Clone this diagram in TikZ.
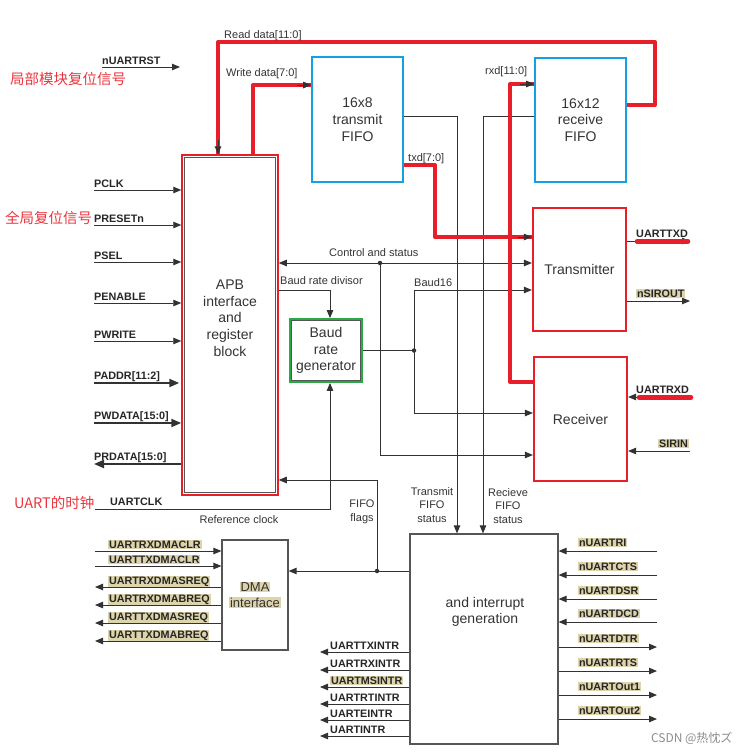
\documentclass[tikz,border=0pt]{standalone}
\usepackage{fontspec}
\setmainfont{Liberation Sans}
\newfontfamily\cjk{Noto Sans CJK SC}
\usetikzlibrary{arrows.meta,calc}

\definecolor{uartred}{RGB}{232,30,40}
\definecolor{fifoblue}{RGB}{20,160,225}
\definecolor{baudgreen}{RGB}{40,170,70}
\definecolor{wiregray}{RGB}{50,50,50}
\definecolor{boxgray}{RGB}{85,85,85}
\definecolor{hl}{RGB}{222,212,172}
\newcommand\hilite[1]{{\setlength\fboxsep{0.8pt}\colorbox{hl}{#1}}}

\tikzset{
  block/.style={draw=boxgray, line width=1.2pt, align=center, inner sep=0pt,
    text=black!80, font=\fontsize{14}{16.7}\selectfont},
  fifo/.style={block, draw=fifoblue, line width=1.6pt},
  unit/.style={block, draw=uartred, line width=2.2pt},
  wire/.style={draw=wiregray, line width=0.9pt},
  arr/.style={wire, -{Triangle[length=8pt,width=6.5pt]}},
  dbl/.style={wire, {Triangle[length=8pt,width=6.5pt]}-{Triangle[length=8pt,width=6.5pt]}},
  busarr/.style={wire, line width=2pt, -{Triangle[length=10pt,width=8pt]}},
  redbus/.style={draw=uartred, line width=4pt, line join=round},
  redmark/.style={draw=uartred, line width=4.5pt, line cap=round},
  sig/.style={font=\fontsize{10.8}{12}\selectfont\bfseries, text=black!85, anchor=base west, inner sep=0pt},
  note/.style={font=\fontsize{11}{13.5}\selectfont, text=black!80, align=center, inner sep=0pt},
  cn/.style={font=\cjk\fontsize{14.5}{17}\selectfont, text=uartred!90, anchor=west, inner sep=0pt},
  junction/.style={circle, fill=wiregray, inner sep=0pt, minimum size=4.5pt},
}

\begin{document}
\begin{tikzpicture}[x=1pt,y=-1pt]
    \useasboundingbox (0,0) rectangle (741,755);

    % blocks
    \node[block, draw=uartred, line width=1.5pt, minimum width=96pt, minimum height=340pt] (apb) at (230,325) {};
    \draw[boxgray, line width=1.2pt] ([shift={(3,3)}]apb.north west) rectangle ([shift={(-3,-3)}]apb.south east);
    \node[block, draw=none] (apbtext) at (230,318) {APB\\interface\\and\\register\\block};

    \node[fifo, minimum width=91pt, minimum height=125pt] (txfifo) at (357.5,119.5) {16x8\\transmit\\FIFO};
    \node[fifo, minimum width=91pt, minimum height=124pt] (rxfifo) at (580.5,120) {16x12\\receive\\FIFO};
    \node[unit, minimum width=93pt, minimum height=123pt] (tx) at (579.5,269.5) {Transmitter};
    \node[unit, minimum width=93pt, minimum height=124pt] (rx) at (580.5,419) {Receiver};

    \node[block, draw=baudgreen, line width=1.8pt, minimum width=72pt, minimum height=63pt] (baud) at (326,350.5) {Baud\\rate\\generator};
    \draw[boxgray, line width=1pt] ([shift={(2.5,2.5)}]baud.north west) rectangle ([shift={(-2.5,-2.5)}]baud.south east);

    \node[block, minimum width=66pt, minimum height=110pt, font=\fontsize{13}{16}\selectfont] (dma) at (255,595) {\hilite{DMA}\\\hilite{interface}};
    \node[block, minimum width=148pt, minimum height=210pt] (intr) at (484,639) {};
    \node[block, draw=none] (intrtext) at (485,612) {and interrupt\\generation};

    % APB side
    \coordinate (rstin) at (102,67);
    \draw[arr] (rstin) -- ++(78,0);
    \node[sig] (rst) at ([yshift=3pt]rstin) {nUARTRST};

    \foreach \y/\n/\t in {190/pclk/PCLK, 225/preset/PRESETn, 262/psel/PSEL, 303/penable/PENABLE, 341/pwrite/PWRITE}{
        \coordinate (\n) at (94,\y);
        \draw[arr] (\n) -- (\n -| apb.west);
        \node[sig] (\n-lbl) at ([yshift=3pt]\n) {\t};
    }
    \coordinate (paddr) at (94,383);
    \draw[busarr] (paddr) -- ([xshift=-2pt]paddr -| apb.west);
    \node[sig] (paddr-lbl) at ([yshift=3.5pt]paddr) {PADDR[11:2]};
    \coordinate (pwdata) at (94,423);
    \draw[busarr] (pwdata) -- (pwdata -| apb.west);
    \node[sig] (pwdata-lbl) at ([yshift=3.5pt]pwdata) {PWDATA[15:0]};
    \coordinate (prdata) at (94,464);
    \draw[busarr] (prdata -| apb.west) -- (prdata);
    \node[sig] (prdata-lbl) at ([yshift=3.5pt]prdata) {PRDATA[15:0]};

    \coordinate (uclk) at (95,509);
    \coordinate (refclk) at (330,509);
    \draw[arr] (uclk) -- (refclk) -- (refclk |- baud.south);
    \node[sig] (uclk-lbl) at ([xshift=15pt,yshift=4pt]uclk) {UARTCLK};
    \node[note] (refclk-lbl) at (239,520) {Reference clock};

    \node[cn] (cn1) at (10,79) {局部模块复位信号};
    \node[cn] (cn2) at (5,218) {全局复位信号};
    \node[cn] (cn3) at (14,503) {UART的时钟};

    % control, baud and status wires
    \coordinate (cs) at (380,263);
    \coordinate (cs2) at (380,455);
    \draw[dbl] (apb.east |- cs) -- (tx.west |- cs);
    \draw[arr] (cs) -- (cs2) -- (cs2 -| rx.west);
    \node[junction] (csdot) at (cs) {};
    \node[note, anchor=base west] (cslbl) at (329,256) {Control and status};

    \coordinate (bd) at (330,290);
    \draw[arr] (apb.east |- bd) -- (bd) -- (bd |- baud.north);
    \node[note, anchor=base west] (bdlbl) at (280,284) {Baud rate divisor};

    \coordinate (b16) at (414,350.5);
    \coordinate (b16t) at (414,290);
    \coordinate (b16r) at (414,413);
    \draw[wire] (baud.east) -- (b16);
    \draw[arr] (b16) -- (b16t) -- (b16t -| tx.west);
    \draw[arr] (b16) -- (b16r) -- (b16r -| rx.west);
    \node[junction] (b16dot) at (b16) {};
    \node[note, anchor=base west] (b16lbl) at (414,286) {Baud16};

    \coordinate (tfs) at (457,116);
    \coordinate (rfs) at (483,116);
    \draw[arr] (txfifo.east |- tfs) -- (tfs) -- (tfs |- intr.north);
    \draw[arr] (rxfifo.west |- rfs) -- (rfs) -- (rfs |- intr.north);
    \node[note] (tfslbl) at (432,505) {Transmit\\FIFO\\status};
    \node[note] (rfslbl) at (508,506) {Recieve\\FIFO\\status};

    \coordinate (ff) at (377,571);
    \coordinate (ff2) at (377,480);
    \draw[arr] (intr.west |- ff) -- (dma.east |- ff);
    \draw[arr] (ff) -- (ff2) -- (ff2 -| apb.east);
    \node[junction] (ffdot) at (ff) {};
    \node[note] (fflbl) at (362,512) {FIFO\\flags};

    % data paths
    \coordinate (rdr) at (655,105);
    \coordinate (rdl) at (218,42);
    \coordinate (rdend) at (rdl |- apb.north);
    \draw[redbus] (rxfifo.east |- rdr) -- (rdr) |- (rdl) -- (rdend);
    \draw[arr] ([yshift=14pt]rdend) -- (rdend);
    \node[note, anchor=base west] (rdlbl) at (224,38) {Read data[11:0]};

    \coordinate (wd) at (253,85);
    \coordinate (wdend) at (wd -| txfifo.west);
    \draw[redbus] (wd |- apb.north) -- (wd) -- (wdend);
    \draw[arr] ([xshift=-14pt]wdend) -- (wdend);
    \node[note, anchor=base west] (wdlbl) at (226,76) {Write data[7:0]};

    \coordinate (td) at (435,165);
    \coordinate (td2) at (435,237);
    \coordinate (tdend) at (td2 -| tx.west);
    \draw[redbus] (txfifo.east |- td) -- (td) -- (td2) -- (tdend);
    \draw[arr] ([xshift=-14pt]tdend) -- (tdend);
    \node[note, anchor=base west] (tdlbl) at (408,161) {txd[7:0]};

    \coordinate (xd) at (510,382);
    \coordinate (xd2) at (510,84);
    \coordinate (xdend) at (xd2 -| rxfifo.west);
    \draw[redbus] (rx.west |- xd) -- (xd) -- (xd2) -- (xdend);
    \draw[arr] ([xshift=-14pt]xdend) -- (xdend);
    \node[note, anchor=base west] (xdlbl) at (485,74) {rxd[11:0]};

    % serial pins
    \coordinate (txdout) at (690,241);
    \draw[arr] (tx.east |- txdout) -- (txdout);
    \node[sig] (txdlbl) at (636,237) {UARTTXD};
    \draw[redmark] (637,241.5) -- (688,241.5);
    \coordinate (sirout) at (690,301);
    \draw[arr] (tx.east |- sirout) -- (sirout);
    \node[sig] (siroutlbl) at (636,297) {\hilite{nSIROUT}};

    \coordinate (rxdin) at (690,397);
    \draw[arr] (rxdin) -- (rxdin -| rx.east);
    \node[sig] (rxdlbl) at (636,393) {UARTRXD};
    \draw[redmark] (639,397.5) -- (691,397.5);
    \coordinate (sirin) at (690,451);
    \draw[arr] (sirin) -- (sirin -| rx.east);
    \node[sig, anchor=base east] (sirinlbl) at (689,447) {\hilite{SIRIN}};

    % DMA pins
    \foreach \y/\t in {551/UARTRXDMACLR, 566/UARTTXDMACLR}{
        \coordinate (\t) at (95,\y);
        \draw[arr] (\t) -- (\t -| dma.west);
        \node[sig] (\t-lbl) at ([xshift=13pt,yshift=3pt]\t) {\hilite{\t}};
    }
    \foreach \y/\t in {587/UARTRXDMASREQ, 605/UARTRXDMABREQ, 623/UARTTXDMASREQ, 641/UARTTXDMABREQ}{
        \coordinate (\t) at (95,\y);
        \draw[arr] (\t -| dma.west) -- (\t);
        \node[sig] (\t-lbl) at ([xshift=13pt,yshift=3pt]\t) {\hilite{\t}};
    }

    % interrupt pins
    \foreach \y/\t in {652/UARTTXINTR, 670/UARTRXINTR, 704/UARTRTINTR, 720/UARTEINTR, 736/UARTINTR}{
        \coordinate (\t) at (320,\y);
        \draw[arr] (\t -| intr.west) -- (\t);
        \node[sig] (\t-lbl) at ([xshift=10pt,yshift=3pt]\t) {\t};
    }
    \coordinate (msintr) at (320,687);
    \draw[arr] (msintr -| intr.west) -- (msintr);
    \node[sig] (msintr-lbl) at ([xshift=10pt,yshift=3pt]msintr) {\hilite{UARTMSINTR}};

    \foreach \y/\t in {551/nUARTRI, 575/nUARTCTS, 599/nUARTDSR, 622/nUARTDCD}{
        \coordinate (\t) at (657,\y);
        \draw[arr] (\t) -- (\t -| intr.east);
        \node[sig] (\t-lbl) at ([yshift=4.5pt]\t -| 578,0) {\hilite{\t}};
    }
    \foreach \y/\t in {647/nUARTDTR, 671/nUARTRTS, 695/nUARTOut1, 719/nUARTOut2}{
        \coordinate (\t) at (657,\y);
        \draw[arr] (\t -| intr.east) -- (\t);
        \node[sig] (\t-lbl) at ([yshift=4.5pt]\t -| 578,0) {\hilite{\t}};
    }

    \node[font=\cjk\fontsize{12}{14}\selectfont, text=black!45, anchor=east] (csdn) at (736,738) {CSDN @热忱ズ};
\end{tikzpicture}
\end{document}
